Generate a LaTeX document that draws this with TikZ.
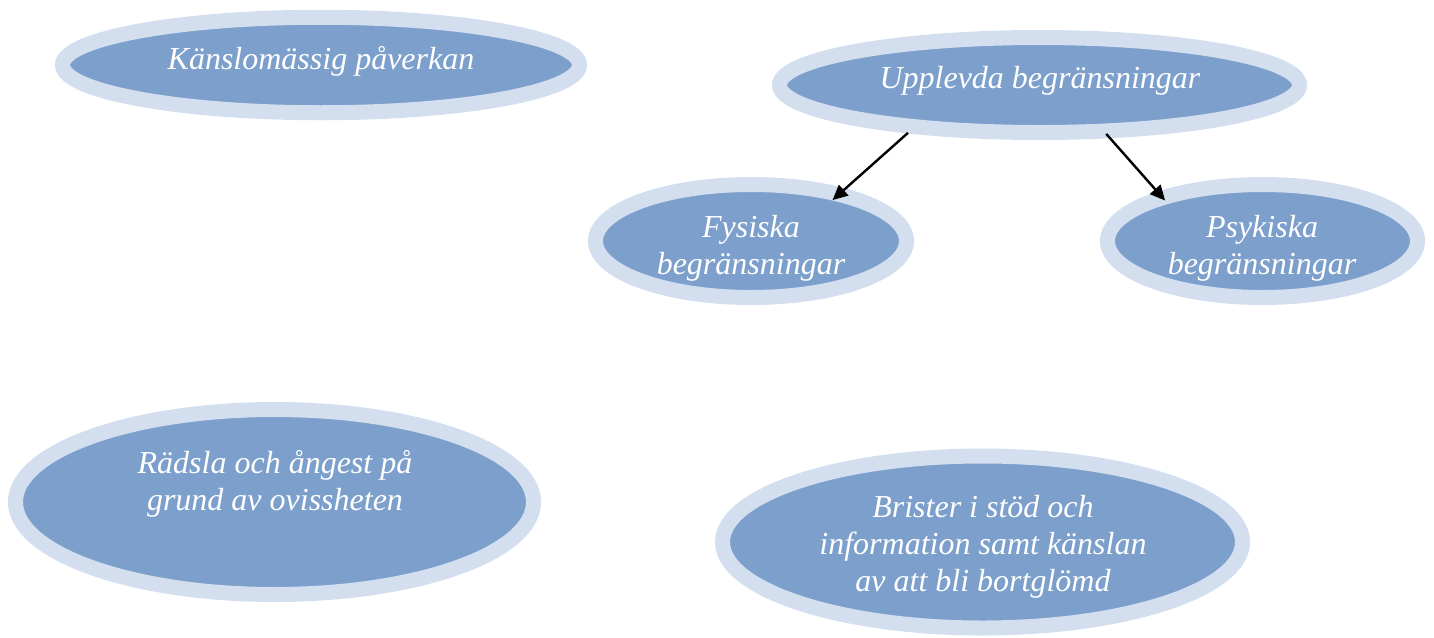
\documentclass[tikz,border=0pt]{standalone}
\usepackage{fontspec}
\setmainfont{Liberation Serif}
\usetikzlibrary{shapes.geometric,arrows.meta}
\definecolor{innerblue}{RGB}{124,159,204}
\definecolor{ringblue}{RGB}{211,223,238}
\begin{document}
\begin{tikzpicture}[x=0.5pt,y=-0.5pt,
  oval/.style={ellipse, draw=ringblue, fill=innerblue, line width=7.5pt, outer sep=3.75pt, inner sep=0pt},
  lbl/.style={text=white, font=\fontsize{16}{18.5}\selectfont\itshape, align=center, inner sep=0pt},
  conn/.style={-{Triangle[length=7.5pt,width=7pt]}, line width=1.2pt, black}]
\useasboundingbox (0,0) rectangle (1434,637);
\node[oval, minimum width=258.5pt, minimum height=47.75pt] (k) at (321,65) {};
\node[oval, minimum width=260pt, minimum height=47.5pt] (u) at (1039.5,85) {};
\node[oval, minimum width=155.5pt, minimum height=56.5pt] (f) at (751,241) {};
\node[oval, minimum width=155pt, minimum height=56.5pt] (p) at (1262.5,241) {};
\node[oval, minimum width=259pt, minimum height=92.5pt] (r) at (274.5,502) {};
\node[oval, minimum width=260pt, minimum height=86pt] (b) at (982.5,542) {};
\node[lbl] (kt) at (321,61) {Känslomässig påverkan};
\node[lbl] (ut) at (1040,81) {Upplevda begränsningar};
\node[lbl] (ftx) at (751,248) {Fysiska\\begränsningar};
\node[lbl] (ptx) at (1262,248) {Psykiska\\begränsningar};
\node[lbl] (rt) at (275,484) {Rädsla och ångest på\\grund av ovissheten};
\node[lbl] (bt) at (983,547) {Brister i stöd och\\information samt känslan\\av att bli bortglömd};
\draw[conn, shorten >=-8.5pt] (u.200) -- (f.29);
\draw[conn, shorten <=-2.75pt, shorten >=-5.6pt] (u.323) -- (p.155);
\end{tikzpicture}
\end{document}
